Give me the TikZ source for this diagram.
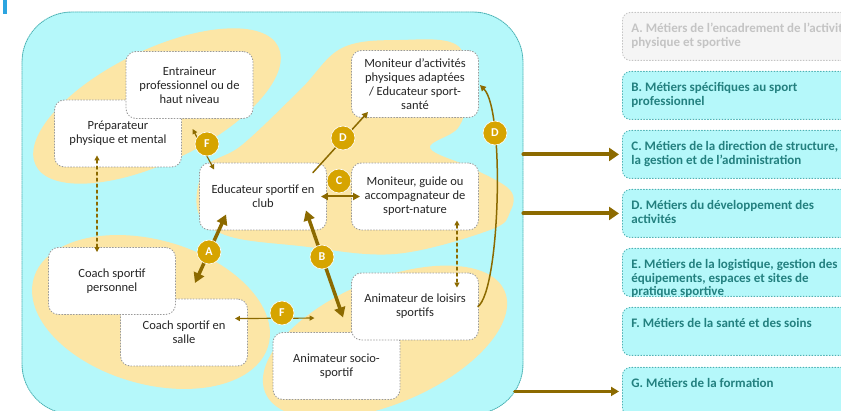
\documentclass[tikz,border=0pt]{standalone}
\usepackage{fontspec}
\setmainfont{Carlito}
\usepackage{tikz}
\usetikzlibrary{arrows.meta, calc, positioning}
\definecolor{spo-cyan}{HTML}{B5F8FA}
\definecolor{spo-sand}{HTML}{FCE6A6}
\definecolor{spo-brown}{HTML}{8C6A00}
\definecolor{spo-gold}{HTML}{D6A400}
\definecolor{spo-teal}{HTML}{23807F}
\definecolor{spo-edge}{HTML}{4DB3B5}
\definecolor{spo-grey}{HTML}{C4C4C4}
\definecolor{spo-ink}{HTML}{262626}
\definecolor{spo-mark}{HTML}{2CA5E0}

\newcommand{\metiertexte}[1]{\parbox[c][38pt][t]{270pt}{\vspace*{6pt}#1}}

\tikzset{
  zone/.style={draw=spo-edge, densely dotted, line width=0.9pt, fill=spo-cyan,
    rounded corners=50pt, minimum width=501pt, minimum height=402pt},
  metier/.style={draw=gray!80, dotted, line width=0.9pt, fill=white,
    rounded corners=10pt, minimum width=127pt, minimum height=67pt, inner sep=2pt,
    align=center, text=spo-ink, font=\fontsize{12.5pt}{14pt}\selectfont},
  famille/.style={draw=spo-edge, dotted, line width=0.9pt, fill=spo-cyan,
    rounded corners=8pt, anchor=north west, inner xsep=9pt, inner ysep=5pt, text=spo-teal,
    font=\bfseries\fontsize{13pt}{13.5pt}\selectfont},
  badge/.style={circle, fill=spo-gold, draw=white, line width=0.6pt, text=white,
    minimum size=24pt, inner sep=0pt, font=\bfseries\fontsize{12pt}{12pt}\selectfont},
  fort/.style={spo-brown, line width=3.5pt,
    {Triangle[length=10pt,width=11pt]}-{Triangle[length=10pt,width=11pt]}},
  moyen/.style={spo-brown, line width=2pt,
    {Triangle[length=7pt,width=7pt]}-{Triangle[length=7pt,width=7pt]}},
  lien/.style={spo-brown, line width=1.2pt,
    {Triangle[length=5pt,width=5pt]}-{Triangle[length=5pt,width=5pt]}},
  pointille/.style={lien, dashed},
  vers/.style={spo-brown, line width=1.5pt, -{Triangle[length=6pt,width=6pt]}},
  sortie/.style={spo-brown, line width=4pt, -{Triangle[length=10pt,width=13pt]}},
  sortiefine/.style={spo-brown, line width=2.5pt, -{Triangle[length=8pt,width=9pt]}}
}

\begin{document}
\begin{tikzpicture}[x=1pt, y=-1pt, line cap=round, line join=round]
\useasboundingbox (0,0) rectangle (841,411);
\clip (0,0) rectangle (841,411);

\fill[spo-mark] (3,0) rectangle (6.5,14);

\node[zone] (zone) at (272.5,213) {};

% familles de metiers
\fill[spo-sand, rotate around={26:(157,106)}] (157,106) ellipse [x radius=135, y radius=56];
\fill[spo-sand, rotate around={-16:(151,312)}] (151,312) ellipse [x radius=122, y radius=72];
\fill[spo-sand, rotate around={23:(385,342)}] (385,342) ellipse [x radius=130, y radius=62];
\fill[spo-sand] plot[smooth cycle, tension=0.6] coordinates {
  (228,236) (198,212) (205,168) (242,145) (300,90) (342,48) (400,40) (458,46)
  (467,95) (458,128) (430,148) (472,168) (510,190) (510,212) (490,230)
  (395,254) (300,246)};

% metiers
\node[metier] (preparateur) at (118,133.5) {Préparateur\\physique et mental};
\node[metier] (entraineur) at (189.5,85) {Entraineur\\professionnel ou de\\haut niveau};
\node[metier] (educateur) at (263,196.5) {Educateur sportif en\\club};
\node[metier] (apa) at (415,84) {Moniteur d'activités\\physiques adaptées\\/ Educateur sport-\\santé};
\node[metier] (guide) at (415,196.5) {Moniteur, guide ou\\accompagnateur de\\sport-nature};
\node[metier] (salle) at (184,332.5) {Coach sportif en\\salle};
\node[metier] (personnel) at (112,281) {Coach sportif\\personnel};
\node[metier] (socio) at (336.5,366) {Animateur socio-\\sportif};
\node[metier] (loisirs) at (415,306.5) {Animateur de loisirs\\sportifs};

% passerelles
\draw[lien] ($(entraineur.south west)+(67,10)$) -- ($(educateur.north west)+(15,7)$);
\draw[pointille] ($(preparateur.south)+(-21,-12)$) -- ($(personnel.north)+(-15,5)$);
\draw[fort] ($(personnel.east)+(19,2)$) -- ($(educateur.south west)+(27,-16)$);
\draw[fort] ($(educateur.south east)+(-21,-20)$) -- ($(loisirs.south west)+(-8,-23)$);
\draw[moyen] ($(educateur.east)+(-6,0)$) -- ($(guide.west)+(9,0)$);
\draw[vers] ($(educateur.north east)+(-14,10)$) -- ($(apa.south west)+(17,-6)$);
\draw[vers] ($(loisirs.east)+(-1,0)$) .. controls (500,290) and (505,110) .. ($(apa.east)+(1,1)$);
\draw[lien] ($(salle.north east)+(-13,20)$) -- ($(socio.north west)+(42,-14)$);
\draw[pointille] ($(guide.south east)+(-22,-10)$) -- ($(loisirs.north east)+(-22,15)$);

\node[badge] (badgeFh) at (207,144) {F};
\node[badge] (badgeA) at (209,252) {A};
\node[badge] (badgeB) at (322,257) {B};
\node[badge] (badgeC) at (339,181) {C};
\node[badge] (badgeDg) at (343,138) {D};
\node[badge] (badgeDd) at (495,133) {D};
\node[badge] (badgeFb) at (282,313) {F};

% categories
\node[famille, draw=spo-grey, fill=gray!8, text=spo-grey] (catA) at (622,12)
  {\metiertexte{A. Métiers de l’encadrement de l’activité\\physique et sportive}};
\node[famille] (catB) at (622,71) {\metiertexte{B. Métiers spécifiques au sport\\professionnel}};
\node[famille] (catC) at (622,130) {\metiertexte{C. Métiers de la direction de structure, de\\la gestion et de l’administration}};
\node[famille] (catD) at (622,189) {\metiertexte{D. Métiers du développement des\\activités}};
\node[famille] (catE) at (622,248) {\metiertexte{E. Métiers de la logistique, gestion des\\équipements, espaces et sites de\\pratique sportive}};
\node[famille] (catF) at (622,307) {\metiertexte{F. Métiers de la santé et des soins}};
\node[famille] (catG) at (622,367) {\metiertexte{G. Métiers de la formation}};

\draw[sortie] (zone.east |- catC.west) -- ([xshift=-3pt]catC.west);
\draw[sortie] (zone.east |- catD.west) -- ([xshift=-3pt]catD.west);
\draw[sortiefine] ([xshift=-9pt]zone.east |- catG.west) -- ([xshift=-3pt]catG.west);
\end{tikzpicture}
\end{document}
